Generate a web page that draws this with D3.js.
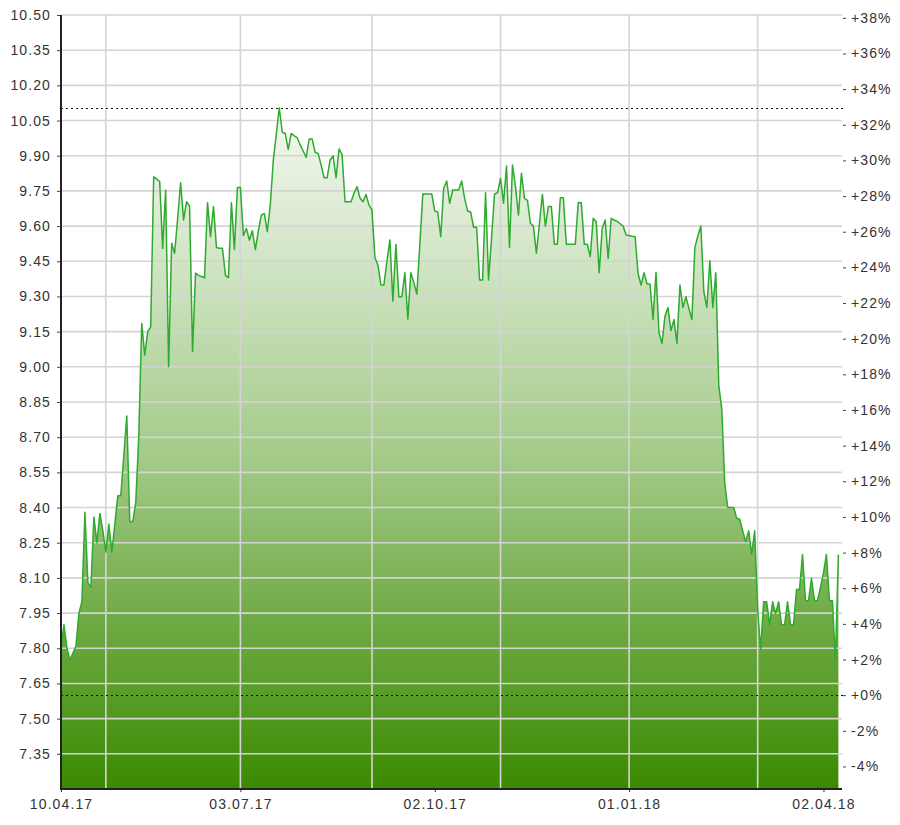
<!DOCTYPE html>
<html><head><meta charset="utf-8">
<script src="https://cdn.jsdelivr.net/npm/d3@7"></script>
<style>
html,body{margin:0;padding:0;background:#fff;}
text{font-family:"Liberation Sans",Arial,sans-serif;}
</style></head>
<body>
<svg id="chart" width="900" height="825"></svg>
<script>
// ---- data ----
const startDate = "2017-04-10";
const endDate = "2018-04-09";
const prices = [
7.80,7.90,7.80,7.75,7.78,7.81,7.95,8.00,8.38,8.08,
8.06,8.36,8.25,8.375,8.30,8.21,8.33,8.21,8.33,8.45,
8.45,8.62,8.79,8.34,8.34,8.42,8.70,9.185,9.05,9.15,
9.17,9.81,9.80,9.79,9.505,9.754,9.00,9.527,9.484,9.63,
9.785,9.626,9.704,9.686,9.065,9.40,9.39,9.385,9.38,9.70,
9.555,9.683,9.509,9.505,9.505,9.39,9.38,9.70,9.50,9.765,
9.765,9.56,9.59,9.54,9.58,9.50,9.58,9.647,9.654,9.576,
9.69,9.88,9.99,10.105,10.00,9.995,9.927,9.995,9.985,9.977,
9.946,9.92,9.893,9.971,9.971,9.914,9.910,9.86,9.806,9.806,
9.882,9.899,9.806,9.929,9.906,9.704,9.704,9.704,9.74,9.768,
9.72,9.704,9.735,9.69,9.668,9.465,9.434,9.349,9.349,9.45,
9.541,9.28,9.522,9.299,9.299,9.401,9.204,9.401,9.36,9.31,
9.52,9.737,9.737,9.737,9.737,9.664,9.66,9.555,9.761,9.792,
9.697,9.754,9.754,9.754,9.792,9.718,9.664,9.66,9.595,9.595,
9.37,9.37,9.742,9.37,9.55,9.737,9.742,9.804,9.697,9.856,
9.509,9.860,9.768,9.647,9.825,9.718,9.71,9.612,9.60,9.484,
9.61,9.735,9.60,9.683,9.683,9.523,9.523,9.721,9.721,9.523,
9.523,9.523,9.523,9.701,9.70,9.523,9.523,9.469,9.633,9.619,
9.401,9.59,9.626,9.462,9.633,9.626,9.62,9.61,9.60,9.562,
9.56,9.557,9.555,9.398,9.349,9.401,9.353,9.353,9.202,9.403,
9.145,9.10,9.216,9.253,9.154,9.202,9.10,9.349,9.253,9.299,
9.249,9.202,9.509,9.558,9.60,9.32,9.253,9.452,9.253,9.401,
8.92,8.82,8.50,8.40,8.40,8.40,8.354,8.35,8.30,8.254,
8.301,8.201,8.301,7.963,7.795,7.998,7.998,7.90,7.998,7.949,
7.998,7.90,7.90,7.998,7.90,7.90,8.051,8.051,8.20,8.003,
8.003,8.098,8.003,8.003,8.06,8.12,8.20,8.003,8.003,7.749,
8.20];
const basePrice = 7.60;
const priceTicks = [7.35,7.50,7.65,7.80,7.95,8.10,8.25,8.40,8.55,8.70,8.85,9.00,9.15,9.30,9.45,9.60,9.75,9.90,10.05,10.20,10.35,10.50];
const pctTicks = [-4,-2,0,2,4,6,8,10,12,14,16,18,20,22,24,26,28,30,32,34,36,38];
const dateLabels = ["10.04.17","03.07.17","02.10.17","01.01.18","02.04.18"];
const gridDates = ["01.05.17","03.07.17","01.09.17","01.11.17","01.01.18","01.03.18"];

// ---- trading days (Mon-Fri) ----
const parse = d3.timeParse("%Y-%m-%d");
const fmt = d3.timeFormat("%d.%m.%y");
const days = d3.timeDay.range(parse(startDate), d3.timeDay.offset(parse(endDate),1))
  .filter(d => d.getDay() !== 0 && d.getDay() !== 6).map(fmt);
const data = days.map((d,i) => ({d, v: prices[i]})).filter(p => p.v != null);

// ---- layout ----
const L = 61, T = 15, B = 789, R = 842, XR = 838.4;
const svg = d3.select("#chart");
const x = d3.scalePoint().domain(days).range([L, XR]);
const y = d3.scaleLinear().domain([7.20, 10.50]).range([B, T]);
const yp = d3.scaleLinear().domain([(7.20/basePrice-1)*100, (10.50/basePrice-1)*100]).range([B, T]);

// gradient
const defs = svg.append("defs");
const grad = defs.append("linearGradient").attr("id","g").attr("gradientUnits","userSpaceOnUse")
  .attr("x1",0).attr("x2",0).attr("y1", y(d3.max(prices))).attr("y2", B);
grad.append("stop").attr("offset","0").attr("stop-color","#f5f9f3");
grad.append("stop").attr("offset","0.5").attr("stop-color","#a6cc8c");
grad.append("stop").attr("offset","1").attr("stop-color","#3a8a00");

// area
svg.append("path").datum(data)
  .attr("fill","url(#g)")
  .attr("d", d3.area().x(p => x(p.d)).y0(B).y1(p => y(p.v)));

// grid
const grid = svg.append("g").attr("stroke","#d4d4d4").attr("stroke-width",1.6);
grid.selectAll("line.h").data(priceTicks).join("line")
  .attr("x1",L).attr("x2",R).attr("y1",d=>y(d)).attr("y2",d=>y(d));
grid.selectAll("line.v").data(gridDates).join("line")
  .attr("x1",d=>x(d)).attr("x2",d=>x(d)).attr("y1",T).attr("y2",B);

// line
svg.append("path").datum(data)
  .attr("fill","none").attr("stroke","#2eaa2e").attr("stroke-width",1.5).attr("stroke-linejoin","round")
  .attr("d", d3.line().x(p => x(p.d)).y(p => y(p.v)));

// dotted reference lines: max and base
svg.append("g").selectAll("line").data([d3.max(prices), basePrice]).join("line")
  .attr("x1",L).attr("x2",R+2).attr("y1",d=>Math.round(y(d))+0.5).attr("y2",d=>Math.round(y(d))+0.5)
  .attr("stroke","#111").attr("stroke-width",1).attr("stroke-dasharray","2,3");

// axes
const fontSize = 14;
const la = svg.append("g").attr("transform",`translate(${L},0)`)
  .call(d3.axisLeft(y).tickValues(priceTicks).tickFormat(d3.format(".2f")).tickSize(4).tickPadding(6).tickSizeOuter(0));
la.select(".domain").remove();
la.selectAll("line").attr("stroke","#444");

const ra = svg.append("g").attr("transform",`translate(${R},0)`)
  .call(d3.axisRight(yp).tickValues(pctTicks).tickFormat(d => (d>=0?"+":"")+d+"%").tickSize(3).tickPadding(6).tickSizeOuter(0));
ra.select(".domain").remove();
ra.selectAll("line").attr("stroke","#444").attr("transform","translate(1,0)");

const ba = svg.append("g").attr("transform",`translate(0,${B})`)
  .call(d3.axisBottom(x).tickValues(dateLabels).tickSize(3).tickPadding(7).tickSizeOuter(0));
ba.select(".domain").remove();
ba.selectAll("line").attr("stroke","#333");

svg.selectAll(".tick text").attr("font-family","'Liberation Sans',Arial,sans-serif")
  .attr("font-size",fontSize).attr("fill","#333").style("letter-spacing","1.1px");

// axis lines
svg.append("line").attr("x1",L).attr("x2",L).attr("y1",T).attr("y2",B+1).attr("stroke","#222").attr("stroke-width",2);
svg.append("line").attr("x1",L).attr("x2",R).attr("y1",B).attr("y2",B).attr("stroke","#222").attr("stroke-width",2);
</script>
</body></html>
